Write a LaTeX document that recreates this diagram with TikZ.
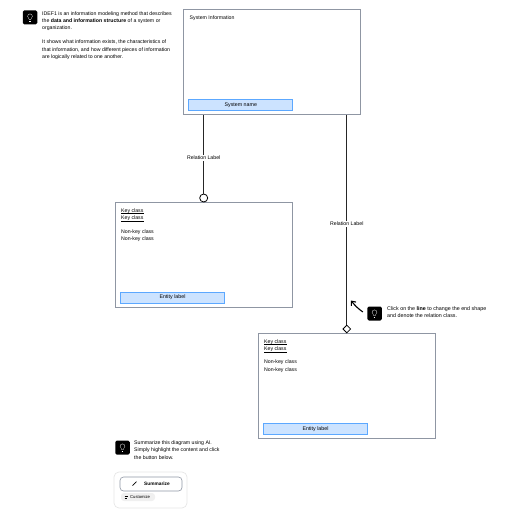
\documentclass[tikz,border=0pt]{standalone}
\usepackage{fontspec}
\setmainfont{Liberation Sans}
\usetikzlibrary{shapes.geometric,arrows.meta,calc,positioning}
\definecolor{boxgray}{HTML}{8F96A3}
\definecolor{tabblue}{HTML}{CCE3FF}
\definecolor{tabedge}{HTML}{5CA8FF}
\definecolor{cardgray}{HTML}{E6E6E6}
\tikzset{
    x=1pt,y=-1pt,
    entity/.style = {draw=boxgray, line width=0.8pt, minimum width=177pt, minimum height=105pt, inner sep=0},
    tab/.style = {draw=tabedge, fill=tabblue, line width=0.7pt, minimum width=104pt, minimum height=11pt, inner sep=0, text height=3.7pt, text depth=1pt, font=\fontsize{5.3}{6}\selectfont},
    txt/.style = {anchor=north west, inner sep=0, align=left, font=\fontsize{5.2}{7.4}\selectfont},
    rel/.style = {fill=white, inner sep=1pt, font=\fontsize{5.2}{6}\selectfont},
    link/.style = {line width=1.2pt, draw=black!85},
    tipicon/.style = {fill=black, rounded corners=1.5pt, minimum width=14.5pt, minimum height=14pt, inner sep=0},
    bulb/.style = {draw=white, line width=0.3pt}
}
\newcommand{\keyclass}{\rlap{\rule[-1.3pt]{23pt}{0.6pt}}Key class}
\newcommand{\tipbulb}[1]{
    \draw[bulb] ($(#1)+(-2.4,-1.2)$) arc (180:360:2.4) -- ($(#1)+(0.7,2.2)$) -- ($(#1)+(-0.7,2.2)$) -- cycle;
    \draw[bulb] ($(#1)+(-0.9,3.6)$) -- ($(#1)+(0.9,3.6)$);
}
\begin{document}
\begin{tikzpicture}
    \useasboundingbox (0,0) rectangle (516,516);

    % entity boxes
    \node[entity] (sysbox) at (272,62) {};
    \node[entity] (ent1) at (204,254.8) {};
    \node[entity] (ent2) at (347,385.8) {};

    \node[tab] (systab) at (240.8,105) {System name};
    \node[tab] (tab1) at (172.5,297.5) {Entity label};
    \node[tab] (tab2) at (315.5,429.2) {Entity label};

    \node[txt] (systxt) at (189.5,16) {System Information};
    \node[txt] (keys1) at (121,208.5) {\keyclass\\\keyclass};
    \node[txt] (non1) at (121,229.2) {Non-key class\\Non-key class};
    \node[txt] (keys2) at (264,339.5) {\keyclass\\\keyclass};
    \node[txt] (non2) at (264,360) {Non-key class\\Non-key class};

    % relations
    \node[circle, draw, line width=0.8pt, fill=white, minimum size=8pt, inner sep=0] (endcirc) at (203.7,198) {};
    \node[diamond, draw, line width=0.8pt, fill=white, minimum size=8pt, inner sep=0] (enddiam) at (346.8,329) {};
    \draw[link] (sysbox.south -| endcirc) -- (endcirc) node[rel, pos=0.546] (rel1) {Relation Label};
    \draw[link] (sysbox.south -| enddiam) -- (enddiam) node[rel, pos=0.52] (rel2) {Relation Label};

    % hints
    \node[tipicon] (tip1) at (30,17.5) {};
    \node[tipicon] (tip2) at (374.5,313.5) {};
    \node[tipicon] (tip3) at (122.5,447.5) {};
    \tipbulb{tip1}
    \tipbulb{tip2}
    \tipbulb{tip3}

    \node[txt] (info) at (42,11.2) {IDEF1 is an information modeling method that describes\\the \textbf{data and information structure} of a system or\\organization.\\[6.6pt]It shows what information exists, the characteristics of\\that information, and how different pieces of information\\are logically related to one another.};
    \node[txt, font=\fontsize{5.35}{7.4}\selectfont] (hint) at (387,306.5) {Click on the \textbf{line} to change the end shape\\and denote the relation class.};
    \node[txt] (summ) at (134,440.5) {Summarize this diagram using AI.\\Simply highlight the content and click\\the button below.};

    \coordinate (arrowtip) at (351,300.5);
    \draw[line width=1.1pt, -{Straight Barb[length=3.5pt,width=6pt]}] ($(tip2.west)+(-4.2,-1.5)$) to[bend left=8] (arrowtip);

    % summarize card
    \node[draw=cardgray, line width=0.7pt, rounded corners=5pt, minimum width=73pt, minimum height=36pt, inner sep=0] (card) at (150.5,490) {};
    \node[draw=boxgray, line width=0.6pt, rounded corners=3.5pt, minimum width=62pt, minimum height=14pt, inner sep=0, font=\fontsize{4.8}{6}\selectfont\bfseries] (sumbtn) at (151,484) {\hspace*{12pt}Summarize};
    \node[fill=cardgray!60, rounded corners=3pt, minimum width=34pt, minimum height=8pt, inner sep=0, font=\fontsize{4.2}{5}\selectfont, text width=24pt, align=right] (custom) at (138,497) {Customize};
    \draw[line width=0.7pt] (132.5,485.5) -- (136.5,481.5);
    \draw[line width=0.4pt] (124.5,496) -- (128,496) (124.5,498) -- (127,498);
\end{tikzpicture}
\end{document}
